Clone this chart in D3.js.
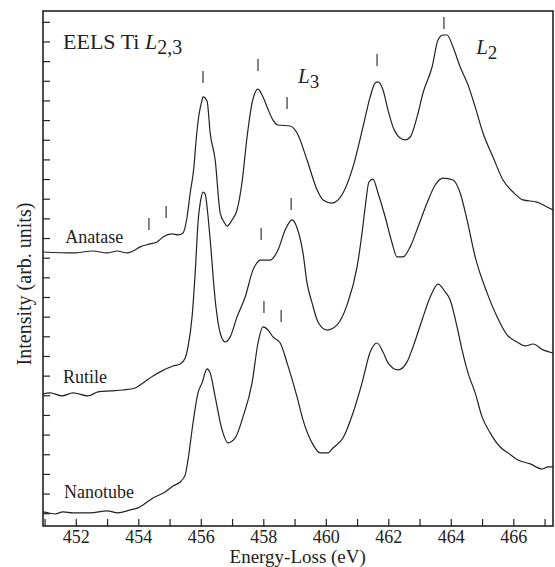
<!DOCTYPE html>
<html>
<head>
<meta charset="utf-8">
<script src="https://cdn.jsdelivr.net/npm/d3@7"></script>
<style>
  body { margin: 0; background: #fff; }
  svg text { font-family: "Liberation Serif", "Times New Roman", serif; fill: #222; }
</style>
</head>
<body>
<div id="chart"></div>
<script>
// Spectra: [energy loss (eV), intensity (arb. units, offset)]
const anatase = [
  [450.95, 13.29], [451.91, 13.24], [452.55, 13.34], [453.00, 13.24], [453.32, 13.34],
  [453.64, 13.24], [453.83, 13.34], [454.06, 13.55], [454.38, 13.70], [454.60, 13.80],
  [454.79, 14.05], [455.08, 14.21], [455.27, 14.16], [455.43, 14.26], [455.56, 15.07],
  [455.66, 16.29], [455.78, 17.62], [455.85, 18.99], [455.94, 20.26], [456.04, 21.02],
  [456.07, 21.18], [456.20, 20.97], [456.30, 19.34], [456.46, 17.97], [456.62, 15.27],
  [456.74, 14.82], [456.84, 14.61], [457.00, 14.92], [457.16, 15.43], [457.32, 16.85],
  [457.48, 19.14], [457.64, 20.87], [457.83, 21.58], [457.99, 21.18], [458.12, 20.67],
  [458.31, 20.00], [458.47, 19.75], [458.86, 19.70], [459.08, 19.34], [459.40, 17.97],
  [459.72, 16.45], [459.91, 15.94], [460.20, 15.78], [460.55, 16.29], [460.87, 17.62],
  [461.19, 19.65], [461.42, 21.18], [461.58, 21.89], [461.67, 21.94], [461.83, 21.53],
  [461.99, 20.51], [462.15, 19.65], [462.38, 19.09], [462.54, 18.99], [462.70, 19.14],
  [462.92, 20.16], [463.11, 21.38], [463.40, 22.70], [463.59, 24.07], [463.75, 24.33],
  [463.88, 24.33], [464.07, 23.72], [464.30, 22.70], [464.55, 21.79], [464.78, 20.67],
  [465.03, 19.34], [465.35, 18.12], [465.67, 16.95], [465.99, 16.34], [466.31, 15.94],
  [466.76, 15.83], [467.08, 15.58], [467.27, 15.43]
];

const rutile = [
  [450.95, 6.07], [451.18, 6.12], [451.56, 5.97], [451.91, 6.12], [452.39, 5.97],
  [452.71, 6.17], [453.10, 6.22], [453.51, 6.27], [453.90, 6.37], [454.15, 6.63],
  [454.47, 6.98], [454.70, 7.19], [454.95, 7.39], [455.11, 7.49], [455.34, 7.59],
  [455.50, 7.90], [455.59, 8.46], [455.72, 9.99], [455.82, 12.22], [455.91, 14.77],
  [456.01, 16.04], [456.07, 16.34], [456.14, 16.24], [456.20, 15.58], [456.30, 13.90],
  [456.46, 10.85], [456.62, 9.17], [456.78, 8.71], [456.94, 8.97], [457.16, 9.99],
  [457.42, 11.00], [457.67, 12.38], [457.77, 12.68], [457.90, 12.88], [458.22, 12.88],
  [458.47, 13.39], [458.70, 14.41], [458.92, 14.92], [459.08, 14.51], [459.27, 13.24],
  [459.40, 11.71], [459.56, 10.70], [459.75, 9.73], [460.04, 9.32], [460.36, 9.58],
  [460.68, 10.60], [461.00, 12.53], [461.16, 14.26], [461.26, 15.58], [461.38, 16.85],
  [461.51, 17.00], [461.67, 16.29], [461.90, 15.07], [462.12, 13.75], [462.28, 13.04],
  [462.47, 13.04], [462.70, 13.55], [462.95, 14.56], [463.24, 15.78], [463.50, 16.70],
  [463.75, 17.05], [464.07, 16.95], [464.30, 16.29], [464.52, 14.92], [464.78, 13.04],
  [465.16, 11.21], [465.48, 9.99], [465.80, 9.07], [466.12, 8.71], [466.38, 8.51],
  [466.63, 8.61], [466.95, 8.31], [467.27, 8.15]
];

const nanotube = [
  [450.95, 0.07], [451.11, 0.02], [451.34, -0.04], [451.59, 0.07], [451.91, 0.02],
  [452.46, 0.02], [453.00, 0.12], [453.35, 0.02], [453.74, 0.17], [453.99, 0.27],
  [454.15, 0.42], [454.47, 0.78], [454.86, 1.08], [455.11, 1.39], [455.34, 1.59],
  [455.50, 1.95], [455.59, 2.71], [455.75, 4.59], [455.91, 6.12], [456.04, 6.63],
  [456.20, 7.34], [456.30, 7.14], [456.46, 5.92], [456.68, 4.24], [456.87, 3.58],
  [457.10, 3.83], [457.35, 4.90], [457.64, 6.63], [457.83, 8.66], [457.99, 9.48],
  [458.15, 9.32], [458.31, 8.97], [458.54, 8.66], [458.76, 7.65], [459.08, 5.92],
  [459.27, 4.75], [459.56, 3.58], [459.82, 3.07], [460.07, 3.07], [460.23, 3.32],
  [460.55, 3.83], [460.87, 5.10], [461.16, 6.63], [461.42, 8.20], [461.64, 8.66],
  [461.83, 8.20], [461.99, 7.65], [462.31, 7.29], [462.60, 7.70], [462.79, 8.46],
  [463.08, 9.83], [463.34, 11.00], [463.59, 11.66], [463.82, 11.26], [463.98, 10.85],
  [464.20, 9.48], [464.36, 8.31], [464.55, 7.14], [464.78, 6.12], [465.00, 4.90],
  [465.26, 4.09], [465.58, 3.37], [465.83, 3.07], [466.15, 2.71], [466.54, 2.51],
  [466.92, 2.25], [467.11, 2.36], [467.27, 2.36]
];

// Peak markers: [energy, intensity at the foot of the mark]
const peakMarks = [
  [454.34, 14.41], [454.89, 15.02], [456.07, 21.89], [457.83, 22.50], [458.76, 20.56],
  [461.64, 22.75], [463.78, 24.63],
  [457.93, 13.90], [458.89, 15.43],
  [458.02, 10.19], [458.57, 9.73]
];

// Curve labels: [name, energy, intensity]
const curveLabels = [
  ["Anatase", 451.66, 13.75],
  ["Rutile", 451.59, 6.63],
  ["Nanotube", 451.62, 0.78]
];

const xTicks = d3.range(451, 468, 1);
const xLabels = [452, 454, 456, 458, 460, 462, 464, 466];
const yTicks = d3.range(0, 26, 1);

const W = 555, H = 567;
const margin = {top: 11, right: 2, bottom: 41, left: 43};
const width = W - margin.left - margin.right;
const height = H - margin.top - margin.bottom;

const svg = d3.select("#chart").append("svg")
    .attr("width", W)
    .attr("height", H);

const g = svg.append("g")
    .attr("transform", `translate(${margin.left},${margin.top})`);

const x = d3.scaleLinear().domain([450.95, 467.27]).range([0, width]);
const y = d3.scaleLinear().domain([-0.65, 25.55]).range([height, 0]);

// inward ticks
const xAxis = d3.axisBottom(x).tickValues(xTicks).tickSizeInner(-7).tickSizeOuter(0)
    .tickFormat(d => xLabels.includes(d) ? d : "");
const gx = g.append("g")
    .attr("transform", `translate(0,${height})`)
    .call(xAxis);
gx.select(".domain").remove();
gx.selectAll(".tick line").attr("stroke", "#222").attr("stroke-width", 1.2);
gx.selectAll(".tick text")
    .attr("y", 4)
    .attr("dy", "0.71em")
    .style("font-size", "18px")
    .style("font-family", "'Liberation Serif', serif")
    .attr("fill", "#222");

const yAxis = d3.axisLeft(y).tickValues(yTicks).tickSizeInner(-7).tickSizeOuter(0).tickFormat("");
const gy = g.append("g").call(yAxis);
gy.select(".domain").remove();
gy.selectAll(".tick line").attr("stroke", "#222").attr("stroke-width", 1.2);

// frame
g.append("rect")
    .attr("x", 0).attr("y", 0)
    .attr("width", width).attr("height", height)
    .attr("fill", "none")
    .attr("stroke", "#222")
    .attr("stroke-width", 1.6);

const line = d3.line()
    .x(d => x(d[0]))
    .y(d => y(d[1]))
    .curve(d3.curveMonotoneX);

[anatase, rutile, nanotube].forEach(series => {
  g.append("path")
      .datum(series)
      .attr("fill", "none")
      .attr("stroke", "#222")
      .attr("stroke-width", 1.2)
      .attr("d", line);
});

g.selectAll(".mark")
  .data(peakMarks)
  .join("line")
    .attr("class", "mark")
    .attr("x1", d => x(d[0]))
    .attr("x2", d => x(d[0]))
    .attr("y1", d => y(d[1]))
    .attr("y2", d => y(d[1]) - 12)
    .attr("stroke", "#222")
    .attr("stroke-width", 1.1);

g.selectAll(".clabel")
  .data(curveLabels)
  .join("text")
    .attr("class", "clabel")
    .attr("x", d => x(d[1]))
    .attr("y", d => y(d[2]))
    .style("font-size", "18px")
    .text(d => d[0]);

// title: EELS Ti L2,3
const title = g.append("text")
    .attr("x", x(451.59))
    .attr("y", y(23.62))
    .style("font-size", "22px");
title.append("tspan").text("EELS Ti ");
title.append("tspan").style("font-style", "italic").text("L");
title.append("tspan").attr("dy", 5).style("font-size", "20px").text("2,3");

// edge labels
[["3", 459.11, 21.89], ["2", 464.81, 23.36]].forEach(([sub, ex, ey]) => {
  const t = g.append("text")
      .attr("x", x(ex))
      .attr("y", y(ey))
      .style("font-size", "21px");
  t.append("tspan").style("font-style", "italic").text("L");
  t.append("tspan").attr("dy", 5).style("font-size", "19px").text(sub);
});

// axis titles
svg.append("text")
    .attr("x", margin.left + x(459.1))
    .attr("y", 563)
    .attr("text-anchor", "middle")
    .style("font-size", "19px")
    .text("Energy-Loss (eV)");

svg.append("text")
    .attr("transform", `translate(31,${284}) rotate(-90)`)
    .attr("text-anchor", "middle")
    .style("font-size", "20px")
    .text("Intensity (arb. units)");
</script>
</body>
</html>
